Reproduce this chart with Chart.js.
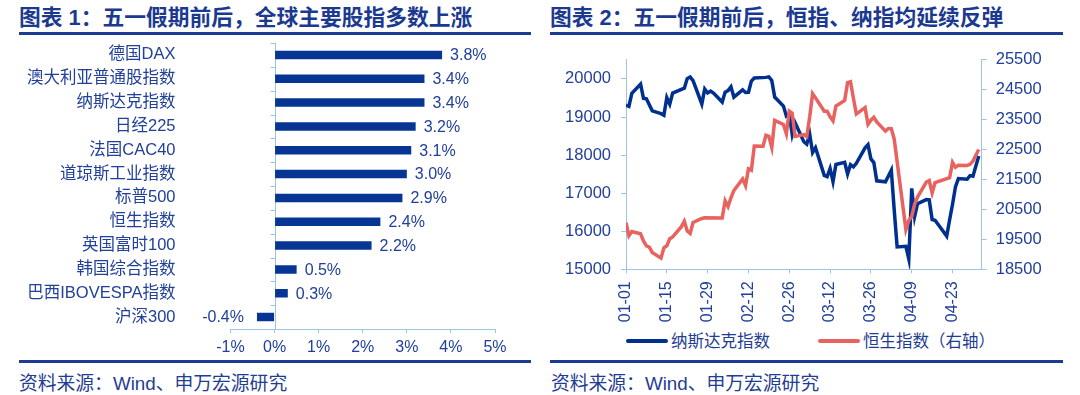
<!DOCTYPE html>
<html>
<head>
<meta charset="utf-8">
<script src="https://cdn.jsdelivr.net/npm/chart.js@4/dist/chart.umd.min.js"></script>
<style>
  body { margin: 0; width: 1080px; height: 395px; background: #fff; position: relative; overflow: hidden;
         font-family: 'Liberation Sans', 'Noto Sans CJK SC', sans-serif; }
  .title { position: absolute; top: 6px; font-size: 21.75px; font-weight: bold; color: #1b3a8f; line-height: 23px; white-space: nowrap; }
  .rule { position: absolute; height: 3px; background: #1c3b92; }
  .source { position: absolute; top: 373px; font-size: 18.8px; color: #1f3d92; line-height: 21px; white-space: nowrap; }
  canvas { position: absolute; }
  #legend2 { position: absolute; left: 626px; top: 331px; display: flex; align-items: center; }
  #legend2 .item { display: flex; align-items: center; margin-right: 48px; font-size: 16.5px; color: #1f3d92; line-height: 20px; }
  #legend2 .swatch { width: 42px; height: 4px; border-radius: 2px; margin-right: 3px; }
</style>
</head>
<body>
<div class="title" style="left:19px">图表 1：五一假期前后，全球主要股指多数上涨</div>
<div class="rule" style="left:19px; width:512px; top:32px"></div>
<div class="title" style="left:550px">图表 2：五一假期前后，恒指、纳指均延续反弹</div>
<div class="rule" style="left:550px; width:513px; top:32px"></div>

<canvas id="barChart" width="540" height="320" style="left:0; top:40px"></canvas>
<canvas id="lineChart" width="540" height="290" style="left:540px; top:40px"></canvas>
<div id="legend2"></div>

<div class="rule" style="left:19px; width:512px; top:360px"></div>
<div class="rule" style="left:550px; width:513px; top:360px"></div>
<div class="source" style="left:19px">资料来源：Wind、申万宏源研究</div>
<div class="source" style="left:551px">资料来源：Wind、申万宏源研究</div>

<script>
// ---- data: chart 1 ----
const indexNames = ['德国DAX', '澳大利亚普通股指数', '纳斯达克指数', '日经225', '法国CAC40', '道琼斯工业指数',
                    '标普500', '恒生指数', '英国富时100', '韩国综合指数', '巴西IBOVESPA指数', '沪深300'];
const changes = [3.8, 3.4, 3.4, 3.2, 3.1, 3.0, 2.9, 2.4, 2.2, 0.5, 0.3, -0.4];
const pctTicks = [-1, 0, 1, 2, 3, 4, 5];

// ---- data: chart 2 ----
const ndxDates = ['01-01','01-02','01-03','01-06','01-07','01-08','01-10','01-13','01-14','01-15','01-16','01-17',
  '01-21','01-22','01-23','01-24','01-27','01-28','01-29','01-30','01-31','02-03','02-04','02-05','02-06','02-07',
  '02-10','02-11','02-12','02-13','02-14','02-18','02-19','02-20','02-21','02-24','02-25','02-26','02-27','02-28',
  '03-03','03-04','03-05','03-06','03-07','03-10','03-11','03-12','03-13','03-14','03-17','03-18','03-19','03-20',
  '03-21','03-24','03-25','03-26','03-27','03-28','03-31','04-01','04-02','04-03','04-04','04-07','04-08','04-09',
  '04-10','04-11','04-14','04-15','04-16','04-17','04-21','04-22','04-23','04-24','04-25','04-28','04-29','04-30',
  '05-01','05-02'];
const ndxValues = [19311, 19280, 19622, 19865, 19490, 19479, 19162, 19088, 19044, 19511, 19338, 19630,
  19757, 20009, 20053, 19954, 19342, 19734, 19632, 19681, 19627, 19392, 19654, 19692, 19791, 19523,
  19714, 19643, 19650, 19945, 20026, 20041, 20056, 19962, 19524, 19286, 19026, 19075, 18544, 18847,
  18350, 18285, 18553, 18069, 18196, 17468, 17436, 17648, 17303, 17754, 17808, 17504, 17750, 17692,
  17784, 18189, 18272, 17900, 17804, 17323, 17299, 17450, 17601, 16551, 15588, 15603, 15268, 17125,
  16387, 16724, 16832, 16823, 16307, 16287, 15871, 16301, 16709, 17166, 17383, 17366, 17462, 17446,
  17711, 17978];

const hsiDates = ['01-01','01-02','01-03','01-06','01-07','01-08','01-09','01-10','01-13','01-14','01-15','01-16',
  '01-17','01-20','01-21','01-22','01-23','01-24','01-27','01-28','02-03','02-04','02-05','02-06','02-07','02-10',
  '02-11','02-12','02-13','02-14','02-17','02-18','02-19','02-20','02-21','02-24','02-25','02-26','02-27','02-28',
  '03-03','03-04','03-05','03-06','03-07','03-10','03-11','03-12','03-13','03-14','03-17','03-18','03-19','03-20',
  '03-21','03-24','03-25','03-26','03-27','03-28','03-31','04-01','04-02','04-03','04-07','04-08','04-09','04-10',
  '04-11','04-14','04-15','04-16','04-17','04-22','04-23','04-24','04-25','04-28','04-29','04-30','05-02'];
const hsiValues = [20060, 19623, 19760, 19688, 19448, 19280, 19241, 19064, 18874, 19220, 19286, 19523,
  19584, 19926, 20107, 19779, 19701, 20066, 20198, 20225, 20217, 20790, 20597, 20892, 21134, 21522,
  21295, 21858, 21814, 22620, 22616, 22977, 22944, 22577, 23478, 23342, 23034, 23788, 23718, 22941,
  23006, 22942, 23594, 24370, 24231, 23784, 23782, 23600, 23463, 23960, 24146, 24741, 24771, 24220,
  23690, 23906, 23344, 23483, 23579, 23427, 23120, 23207, 23203, 22850, 19828, 20128, 20265, 20682,
  20915, 21417, 21466, 21057, 21395, 21562, 22073, 21910, 21981, 21972, 22008, 22119, 22505];

const dateTicks = ['01-01','01-15','01-29','02-12','02-26','03-12','03-26','04-09','04-23'];
const ndxTicks = [15000, 16000, 17000, 18000, 19000, 20000];
const hsiTicks = [18500, 19500, 20500, 21500, 22500, 23500, 24500, 25500];

// ---- styles ----
const textColor = '#21409a';
const axisColor = '#9dc3e6';
const latinFont = "'Liberation Sans', 'Noto Sans CJK SC', sans-serif";

// days since 01-01 (2025)
const monthStart = [0, 31, 59, 90, 120, 151];
function dayOf(md) {
    const [m, d] = md.split('-').map(Number);
    return monthStart[m - 1] + d - 1;
}
function labelOf(day) {
    let m = 0;
    while (m < 5 && monthStart[m + 1] <= day) m++;
    const d = day - monthStart[m] + 1;
    return String(m + 1).padStart(2, '0') + '-' + String(d).padStart(2, '0');
}

// 0% axis line with its category ticks (under the bars)
const zeroAxis = {
    id: 'zeroAxis',
    beforeDatasetsDraw(chart) {
        const ctx = chart.ctx;
        const xs = chart.scales.x, ys = chart.scales.y;
        const area = chart.chartArea;
        const x0 = Math.round(xs.getPixelForValue(0)) + 0.5;
        const band = ys.getPixelForValue(1) - ys.getPixelForValue(0);
        ctx.save();
        ctx.strokeStyle = axisColor;
        ctx.lineWidth = 1;
        ctx.beginPath();
        ctx.moveTo(x0, area.top);
        ctx.lineTo(x0, area.bottom);
        for (let i = 0; i <= indexNames.length; i++) {
            const y = Math.round(ys.getPixelForValue(i) - band / 2) + 0.5;
            ctx.moveTo(x0 - 5, y);
            ctx.lineTo(x0, y);
        }
        ctx.stroke();
        ctx.restore();
    }
};

// value labels at the end of each bar
const barLabels = {
    id: 'barLabels',
    afterDatasetsDraw(chart) {
        const ctx = chart.ctx;
        const meta = chart.getDatasetMeta(0);
        ctx.save();
        ctx.font = '16px ' + latinFont;
        ctx.fillStyle = textColor;
        ctx.textBaseline = 'middle';
        meta.data.forEach((bar, i) => {
            const v = changes[i];
            const txt = v.toFixed(1) + '%';
            if (v >= 0) {
                ctx.textAlign = 'left';
                ctx.fillText(txt, bar.x + 8, bar.y + 1);
            } else {
                ctx.textAlign = 'right';
                ctx.fillText(txt, bar.x - 13, bar.y + 1);
            }
        });
        ctx.restore();
    }
};

// Chart 1: horizontal bars
new Chart(document.getElementById('barChart').getContext('2d'), {
    type: 'bar',
    data: {
        labels: indexNames,
        datasets: [{
            data: changes,
            backgroundColor: '#063594',
            barPercentage: 0.36,
            categoryPercentage: 1
        }]
    },
    options: {
        indexAxis: 'y',
        responsive: false,
        animation: false,
        layout: { padding: { top: 3, right: 45, bottom: 0, left: 0 } },
        plugins: { legend: { display: false }, tooltip: { enabled: false } },
        scales: {
            x: {
                min: pctTicks[0],
                max: pctTicks[pctTicks.length - 1],
                afterBuildTicks: s => { s.ticks = pctTicks.map(v => ({ value: v })); },
                ticks: { callback: v => v + '%', color: textColor, font: { size: 16, family: latinFont }, padding: 5 },
                grid: { drawOnChartArea: false, color: axisColor, tickLength: 4 },
                border: { display: true, color: axisColor, width: 1 },
                afterFit: s => { s.height = 31; }
            },
            y: {
                position: 'left',
                grid: { display: false },
                border: { display: false },
                ticks: { color: textColor, font: { size: 16.5, family: latinFont }, padding: 47 },
                // labels sit well left of the plot; keep the label gap out of the vertical padding
                afterFit: s => { s.width = 230.5; s.paddingTop = 0; s.paddingBottom = 0; }
            }
        }
    },
    plugins: [zeroAxis, barLabels]
});

// Chart 2: two lines on two value axes
const lineChart = new Chart(document.getElementById('lineChart').getContext('2d'), {
    type: 'line',
    data: {
        datasets: [{
            label: '纳斯达克指数',
            data: ndxDates.map((d, i) => ({ x: dayOf(d), y: ndxValues[i] })),
            borderColor: '#00308f',
            borderWidth: 3.5,
            pointRadius: 0,
            yAxisID: 'y',
            order: 1
        }, {
            label: '恒生指数（右轴）',
            data: hsiDates.map((d, i) => ({ x: dayOf(d), y: hsiValues[i] })),
            borderColor: '#e8625f',
            borderWidth: 3.5,
            pointRadius: 0,
            yAxisID: 'y1',
            order: 0
        }]
    },
    options: {
        responsive: false,
        animation: false,
        layout: { padding: { top: 16.7, right: 0, bottom: 0, left: 0 } },
        plugins: { legend: { display: false }, tooltip: { enabled: false } },
        scales: {
            x: {
                type: 'linear',
                min: 0,
                max: 122,
                afterBuildTicks: s => { s.ticks = dateTicks.map(t => ({ value: dayOf(t) })); },
                ticks: {
                    callback: v => labelOf(v),
                    autoSkip: false,
                    minRotation: 90,
                    maxRotation: 90,
                    color: textColor,
                    font: { size: 16, family: latinFont },
                    padding: 8
                },
                grid: { drawOnChartArea: false, color: axisColor, tickLength: 4 },
                border: { color: axisColor },
                afterFit: s => { s.height = 60.7; }
            },
            y: {
                position: 'left',
                min: 15000,
                max: 20500,
                afterBuildTicks: s => { s.ticks = ndxTicks.map(v => ({ value: v })); },
                ticks: { callback: v => String(v), color: textColor, font: { size: 16.5, family: latinFont }, padding: 10 },
                grid: { drawOnChartArea: false, color: axisColor, tickLength: 5 },
                border: { color: axisColor },
                afterFit: s => { s.width = 86; }
            },
            y1: {
                position: 'right',
                min: 18500,
                max: 25500,
                afterBuildTicks: s => { s.ticks = hsiTicks.map(v => ({ value: v })); },
                ticks: { callback: v => String(v), color: textColor, font: { size: 16.5, family: latinFont }, padding: 9 },
                grid: { drawOnChartArea: false, color: axisColor, tickLength: 5 },
                border: { color: axisColor },
                afterFit: s => { s.width = 98.3; }
            }
        }
    }
});

// HTML legend built from the chart's datasets
const legendBox = document.getElementById('legend2');
lineChart.data.datasets.forEach(ds => {
    const item = document.createElement('div');
    item.className = 'item';
    const sw = document.createElement('span');
    sw.className = 'swatch';
    sw.style.background = ds.borderColor;
    item.appendChild(sw);
    item.appendChild(document.createTextNode(ds.label));
    legendBox.appendChild(item);
});
</script>
</body>
</html>
